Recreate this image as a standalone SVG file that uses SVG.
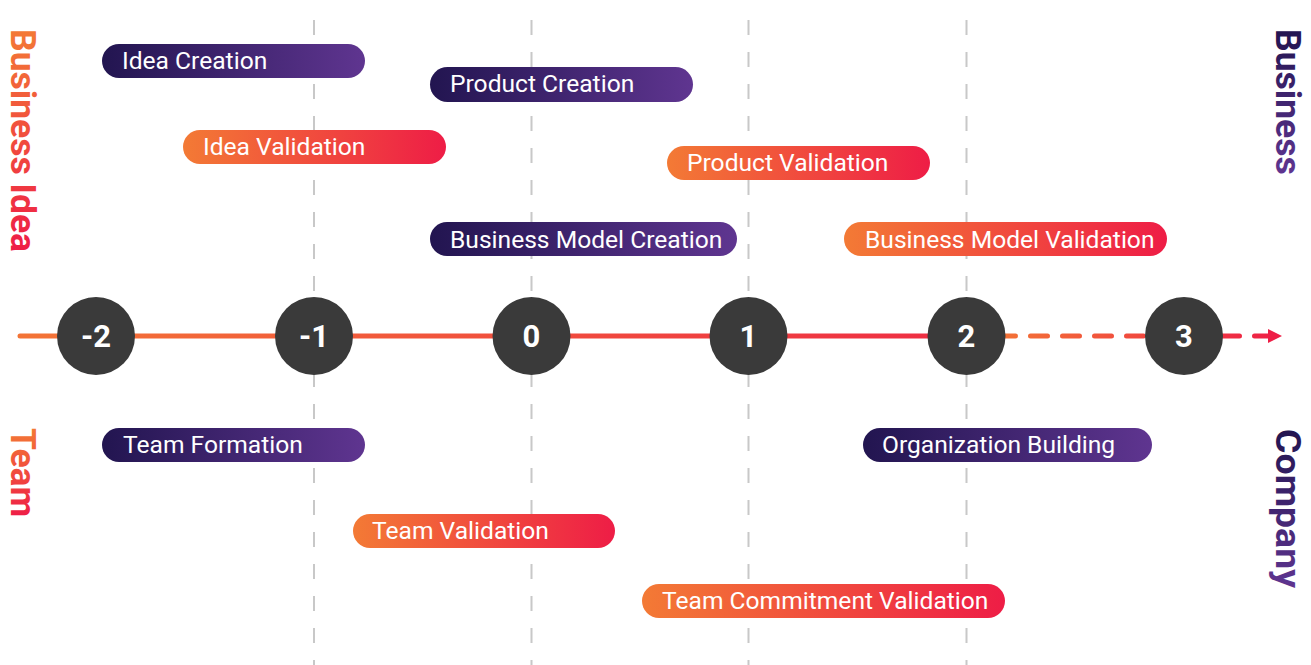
<svg xmlns="http://www.w3.org/2000/svg" width="1311" height="665" viewBox="0 0 1311 665">
<defs>
<linearGradient id="gPurple" x1="0" y1="0" x2="1" y2="0"><stop offset="0" stop-color="#221550"/><stop offset="1" stop-color="#5F3590"/></linearGradient>
<linearGradient id="gOrange" x1="0" y1="0" x2="1" y2="0"><stop offset="0" stop-color="#F37A35"/><stop offset="1" stop-color="#EE1D46"/></linearGradient>
<linearGradient id="gAxis" gradientUnits="userSpaceOnUse" x1="18" y1="0" x2="1000" y2="0"><stop offset="0" stop-color="#F37436"/><stop offset="1" stop-color="#EE2A44"/></linearGradient>
<linearGradient id="gAxis2" gradientUnits="userSpaceOnUse" x1="996" y1="0" x2="1282" y2="0"><stop offset="0" stop-color="#F37436"/><stop offset="1" stop-color="#EE1E46"/></linearGradient>
<marker id="arrow" viewBox="0 0 14 14" refX="0" refY="7" markerWidth="14" markerHeight="14" markerUnits="userSpaceOnUse" orient="auto"><path d="M0,0 L14,7 L0,14 Z" fill="#EE1E46"/></marker>
</defs>
<style>
.grid{stroke:#c8c8c8;stroke-width:2;stroke-dasharray:15 17;fill:none}
.pill text{font-family:Roboto,"Liberation Sans",sans-serif;font-size:24.6px;fill:#fff}
.circle circle{fill:#3a3a3a}
.circle text{font-family:Roboto,"Liberation Sans",sans-serif;font-size:31px;font-weight:bold;fill:#fff;text-anchor:middle}
.side{font-family:Roboto,"Liberation Sans",sans-serif;font-size:35.5px;font-weight:bold}
</style>
<rect width="1311" height="665" fill="#fff"/>
<g id="gridlines">
<line class="grid" x1="314" y1="20" x2="314" y2="665"/>
<line class="grid" x1="531.5" y1="20" x2="531.5" y2="665"/>
<line class="grid" x1="748.5" y1="20" x2="748.5" y2="665"/>
<line class="grid" x1="966.5" y1="20" x2="966.5" y2="665"/>
</g>
<g id="labels">
<text class="side" transform="translate(11,29) rotate(90)" fill="url(#gOrange)">Business Idea</text>
<text class="side" transform="translate(11,428) rotate(90)" fill="url(#gOrange)">Team</text>
<text class="side" transform="translate(1276,29) rotate(90)" fill="url(#gPurple)">Business</text>
<text class="side" transform="translate(1276,429) rotate(90)" fill="url(#gPurple)" textLength="159" lengthAdjust="spacingAndGlyphs">Company</text>
</g>
<g id="connectors">
<line x1="20" y1="336" x2="1000" y2="336" stroke="url(#gAxis)" stroke-width="5" stroke-linecap="round"/>
<line x1="998.5" y1="336" x2="1268" y2="336" stroke="url(#gAxis2)" stroke-width="5" stroke-linecap="round" stroke-dasharray="17 15" marker-end="url(#arrow)"/>
</g>
<g id="pill-idea-creation" class="pill"><rect x="102" y="44" width="263" height="34" rx="17" fill="url(#gPurple)"/><text x="122" y="69">Idea Creation</text></g>
<g id="pill-idea-validation" class="pill"><rect x="183" y="130" width="263" height="34" rx="17" fill="url(#gOrange)"/><text x="203" y="155">Idea Validation</text></g>
<g id="pill-product-creation" class="pill"><rect x="430" y="67" width="263" height="35" rx="17.5" fill="url(#gPurple)"/><text x="450" y="92">Product Creation</text></g>
<g id="pill-product-validation" class="pill"><rect x="667" y="146" width="263" height="34" rx="17" fill="url(#gOrange)"/><text x="687" y="171">Product Validation</text></g>
<g id="pill-bm-creation" class="pill"><rect x="430" y="222" width="307" height="34" rx="17" fill="url(#gPurple)"/><text x="450" y="248">Business Model Creation</text></g>
<g id="pill-bm-validation" class="pill"><rect x="844" y="222" width="323" height="34" rx="17" fill="url(#gOrange)"/><text x="865" y="248">Business Model Validation</text></g>
<g id="pill-team-formation" class="pill"><rect x="102" y="428" width="263" height="34" rx="17" fill="url(#gPurple)"/><text x="123" y="453">Team Formation</text></g>
<g id="pill-org-building" class="pill"><rect x="863" y="428" width="289" height="34" rx="17" fill="url(#gPurple)"/><text x="882" y="453">Organization Building</text></g>
<g id="pill-team-validation" class="pill"><rect x="353" y="514" width="262" height="34" rx="17" fill="url(#gOrange)"/><text x="372" y="539">Team Validation</text></g>
<g id="pill-team-commitment" class="pill"><rect x="642" y="584" width="363" height="34" rx="17" fill="url(#gOrange)"/><text x="662" y="609">Team Commitment Validation</text></g>
<g id="step-m2" class="circle"><circle cx="96" cy="336" r="39"/><text x="96" y="347">-2</text></g>
<g id="step-m1" class="circle"><circle cx="314" cy="336" r="39"/><text x="314" y="347">-1</text></g>
<g id="step-0" class="circle"><circle cx="531.5" cy="336" r="39"/><text x="531.5" y="347">0</text></g>
<g id="step-1" class="circle"><circle cx="748.5" cy="336" r="39"/><text x="748.5" y="347">1</text></g>
<g id="step-2" class="circle"><circle cx="966.5" cy="336" r="39"/><text x="966.5" y="347">2</text></g>
<g id="step-3" class="circle"><circle cx="1184" cy="336" r="39"/><text x="1184" y="347">3</text></g>
</svg>
